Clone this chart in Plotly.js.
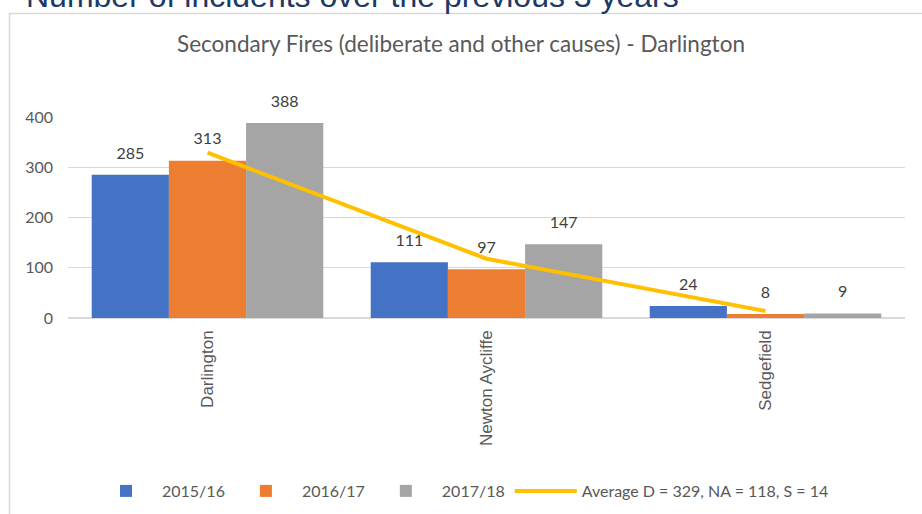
<!DOCTYPE html>
<html>
<head>
<meta charset="utf-8">
<script src="https://cdn.plot.ly/plotly-3.0.1.min.js"></script>
<style>html,body{margin:0;padding:0;background:#fff;}#chart{width:922px;height:514px;}</style>
</head>
<body>
<div id="chart"></div>
<script>
const categories = ["Darlington", "Newton Aycliffe", "Sedgefield"];
const series2015 = [285, 111, 24];
const series2016 = [313, 97, 8];
const series2017 = [388, 147, 9];
const averages = [329, 118, 14];
const seriesNames = ["2015/16", "2016/17", "2017/18", "Average D = 329, NA = 118, S = 14"];
const yTicks = [0, 100, 200, 300, 400];

const W = 922, H = 514;
const L = 68, R = 17, T = 117, B = 196;
const pw = W - L - R, ph = H - T - B;
const px = x => (x - L) / pw;
const py = y => (H - B - y) / ph;

const GAP = 0.17;
const labelFont = {family: "Lato, 'Open Sans', sans-serif", size: 16, color: "#404040"};
const colors = ["#4472C4", "#ED7D31", "#A5A5A5"];
const groups = ["g1", "g2", "g3"];
const seriesList = [series2015, series2016, series2017];

const data = [];
seriesList.forEach((vals, i) => {
  data.push({
    type: "bar", name: seriesNames[i], x: categories, y: vals,
    marker: {color: colors[i]}, offsetgroup: groups[i], hoverinfo: "none"
  });
});
seriesList.forEach((vals, i) => {
  data.push({
    type: "scatter", mode: "markers+text", x: categories, y: vals,
    text: vals.map(String), textposition: "top center", textfont: labelFont,
    marker: {size: 18, opacity: 0, color: colors[i]},
    offsetgroup: groups[i], showlegend: false, cliponaxis: false, hoverinfo: "none"
  });
});
data.push({type: "scatter", mode: "lines", name: seriesNames[3], x: categories, y: averages,
   offsetgroup: groups[1],
   line: {color: "#FFC000", width: 4}, hoverinfo: "none", cliponaxis: false});

const layout = {
  width: W, height: H,
  margin: {l: L, r: R, t: T, b: B, autoexpand: false},
  paper_bgcolor: "#fff", plot_bgcolor: "#fff",
  barmode: "group", bargap: GAP, bargroupgap: 0,
  scattermode: "group", scattergap: GAP,
  showlegend: true,
  title: {text: "Secondary Fires (deliberate and other causes) - Darlington",
          font: {family: "Lato, 'Open Sans', sans-serif", size: 22.5, color: "#595959"},
          x: 0.5, xref: "container", xanchor: "center",
          y: 1 - 44 / H, yref: "container", yanchor: "middle"},
  xaxis: {type: "category", showgrid: false, zeroline: false, showline: false,
          ticks: "", tickangle: -90, automargin: false, ticklabelstandoff: 8,
          tickfont: {family: "'Liberation Sans', Arial, sans-serif", size: 17, color: "#595959"}},
  yaxis: {range: [0, 400], tickvals: yTicks, ticktext: yTicks.map(String), automargin: false,
          showgrid: true, gridcolor: "#d9d9d9", gridwidth: 1,
          zeroline: true, zerolinecolor: "#d9d9d9", zerolinewidth: 1.5,
          showline: false, ticks: "", ticklabelstandoff: 14,
          tickfont: {family: "Lato, 'Open Sans', sans-serif", size: 16, color: "#595959"}},
  legend: {orientation: "h", x: px(462), xanchor: "center", y: py(491), yanchor: "middle",
           font: {family: "Lato, 'Open Sans', sans-serif", size: 16, color: "#595959"},
           traceorder: "normal", itemwidth: 62, bgcolor: "rgba(0,0,0,0)"},
  shapes: [{type: "rect", xref: "paper", yref: "paper",
            x0: px(9.5), x1: px(940), y0: py(13.5), y1: py(530),
            line: {color: "#d9d9d9", width: 1.5}, fillcolor: "rgba(0,0,0,0)", layer: "below"}],
  annotations: [{text: "Number of incidents over the previous 3 years", showarrow: false,
                 xref: "paper", yref: "paper", x: px(24), xanchor: "left",
                 y: py(16.5), yanchor: "bottom",
                 font: {family: "'Liberation Sans', Arial, sans-serif", size: 32, color: "#203864"}}]
};

Plotly.newPlot("chart", data, layout, {staticPlot: true, displayModeBar: false});
</script>
</body>
</html>
